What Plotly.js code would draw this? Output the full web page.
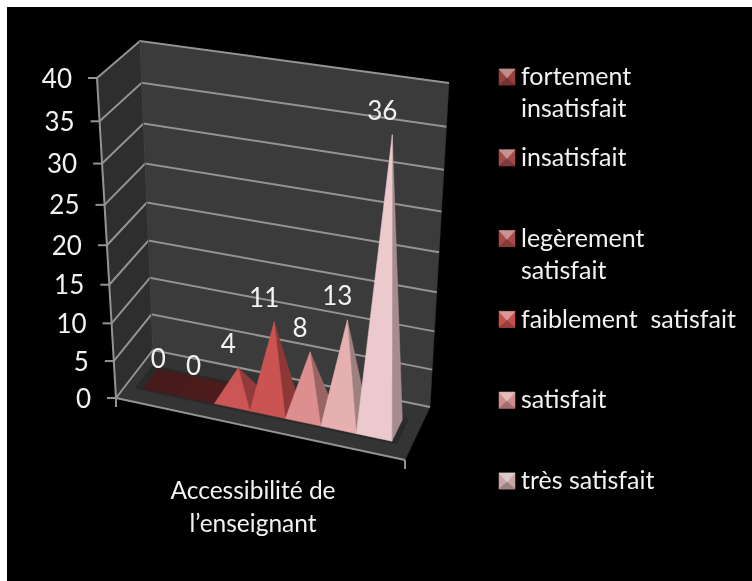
<!DOCTYPE html>
<html><head><meta charset="utf-8">
<script src="https://cdn.plot.ly/plotly-3.0.1.min.js"></script>
<style>html,body{margin:0;padding:0;background:#fff}#c{filter:blur(0.45px)}#c .textpoint text{-webkit-text-stroke:0.35px #f2f2f2}</style></head>
<body><div id="c" style="width:752px;height:581px"></div>
<script>
// ---- data ----
const values = [0, 0, 4, 11, 8, 13, 36];
const faceColors = ['#471a1b', '#4c1c1d', '#cb5655', '#cb5453', '#dc8f8e', '#e6b0b1', '#ebc9cd'];
const sideColors = ['#471a1b', '#4c1c1d', '#923a39', '#8d3837', '#9b6464', '#9d8181', '#a68c8f'];
const valueTicks = [0, 5, 10, 15, 20, 25, 30, 35, 40];
const legendLabels = [['fortement', 'insatisfait'], ['insatisfait'], ['legèrement', 'satisfait'], ['faiblement  satisfait'], ['satisfait'], ['très satisfait']];
const legendColors = ['#96403f', '#a04a49', '#a84a49', '#c25150', '#cf8d8d', '#c9a5a6'];
const categoryLines = ['Accessibilité de', 'l’enseignant'];

// ---- oblique projection of the 3D box onto the page scale ----
const FLB = [116, 398], FRB = [405, 460], BLB = [153, 350], BRB = [430, 407];
const FLT = [97, 78], FRT = [424, 125], BLT = [140, 41], BRT = [449, 83];
const K = 1.095, VMAX = 40;
function mix(a, b, t) { return [a[0] + (b[0] - a[0]) * t, a[1] + (b[1] - a[1]) * t]; }
function proj(u, d, v) {
  const bot = mix(mix(FLB, FRB, u), mix(BLB, BRB, u), d);
  const top = mix(mix(FLT, FRT, u), mix(BLT, BRT, u), d);
  const s = v / VMAX;
  return mix(bot, top, s / (K - (K - 1) * s));
}
const traces = [];
function poly(pts, color) {
  const c = pts.concat([pts[0]]);
  traces.push({ x: c.map(p => p[0]), y: c.map(p => p[1]), type: 'scatter', mode: 'lines', fill: 'toself', fillcolor: color, line: { width: 0.5, color: color }, hoverinfo: 'skip', showlegend: false });
}
function line(pts, color, w) {
  traces.push({ x: pts.map(p => p[0]), y: pts.map(p => p[1]), type: 'scatter', mode: 'lines', line: { width: w, color: color }, hoverinfo: 'skip', showlegend: false });
}
function label(x, y, text, size, pos) {
  traces.push({ x: [x], y: [y], text: [text], type: 'scatter', mode: 'text', textposition: pos || 'middle center', textfont: { family: 'Lato, "Open Sans", sans-serif', size: size, color: '#f2f2f2' }, hoverinfo: 'skip', showlegend: false });
}

// walls and floor
poly([BLB, BRB, BRT, BLT], '#3b3b3b');
poly([FLB, BLB, BLT, FLT], '#2e2e2e');
poly([FLB, FRB, BRB, BLB], '#343434');
const gridColor = '#939393';
valueTicks.forEach(v => {
  const a = proj(0, 0, v), b = proj(0, 1, v), c = proj(1, 1, v);
  line([a, b, c], gridColor, 2);
  line([[a[0] - 9, a[1]], a], gridColor, 2);
  label(a[0] - 25, a[1] + 3, String(v), 26, 'middle left');
});
line([FLT, FLB], gridColor, 2);
line([BLT, BLB], '#444444', 1);
line([FLB, FRB], gridColor, 2);
line([FLB, [FLB[0], FLB[1] + 9]], gridColor, 2);
line([FRB, [FRB[0], FRB[1] + 9]], gridColor, 2);

// floor shadow under pyramids
const U0 = 0.06, U1 = 0.93, D0 = 0.275, D1 = 0.68;
poly([proj(U0 - 0.025, D0 - 0.035, 0), proj(U1 + 0.02, D0 - 0.035, 0), proj(U1 + 0.02, D1 + 0.04, 0), proj(U0 - 0.025, D1 + 0.04, 0)], '#2a2a2a');

// pyramids
const step = (U1 - U0) / values.length;
values.forEach((v, i) => {
  const u0 = U0 + i * step, u1 = u0 + step, uc = u0 + step / 2, dc = (D0 + D1) / 2;
  const fl = proj(u0, D0, 0), fr = proj(u1, D0, 0), br = proj(u1, D1, 0), bl = proj(u0, D1, 0);
  const apex = proj(uc, dc, v);
  if (v === 0) {
    poly([fl, fr, br, bl], faceColors[i]);
  } else {
    poly([fr, br, apex], sideColors[i]);
    poly([fl, fr, apex], faceColors[i]);
  }
});
// data labels
values.forEach((v, i) => {
  const apex = proj(U0 + (i + 0.5) * step, (D0 + D1) / 2, v);
  label(apex[0] - 10, apex[1] - 21, String(v), 26);
});

// category title
categoryLines.forEach((t, i) => label(253, 493 + i * 33, t, 24.5));

// legend
const LEG_X = 507, LEG_Y0 = 77, LEG_DY = 80.8, LEG_R = 8;
function shade(hex, f) {
  const n = parseInt(hex.slice(1), 16);
  const ch = [n >> 16, (n >> 8) & 255, n & 255].map(c => Math.round(f > 1 ? c + (255 - c) * (f - 1) : c * f));
  return 'rgb(' + ch.join(',') + ')';
}
legendLabels.forEach((lines, i) => {
  const cy = LEG_Y0 + i * LEG_DY, cx = LEG_X, r = LEG_R;
  const a = [cx - r, cy - r], b = [cx + r, cy - r], c = [cx + r, cy + r], e = [cx - r, cy + r], m = [cx, cy + 1];
  poly([a, b, c, e], legendColors[i]);
  poly([a, b, m], shade(legendColors[i], 1.4));
  poly([e, c, m], shade(legendColors[i], 0.78));
  lines.forEach((t, j) => label(521, cy + 2 + j * 32, t, 25, 'middle right'));
});

const layout = {
  width: 752, height: 581, autosize: false,
  margin: { l: 0, r: 0, t: 0, b: 0 },
  paper_bgcolor: '#ffffff', plot_bgcolor: '#ffffff', showlegend: false,
  xaxis: { range: [0, 752], visible: false, fixedrange: true },
  yaxis: { range: [581, 0], visible: false, fixedrange: true },
  shapes: [{ type: 'rect', layer: 'below', xref: 'paper', yref: 'paper', x0: 7 / 752, x1: 1, y0: 0, y1: 1 - 7 / 581, fillcolor: '#000000', line: { width: 0 } }]
};
Plotly.newPlot('c', traces, layout, { staticPlot: true, displayModeBar: false });
</script></body></html>
